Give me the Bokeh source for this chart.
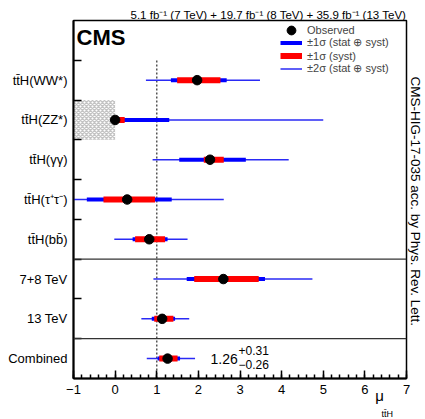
import numpy as np
from bokeh.plotting import figure
from bokeh.models import (Range1d, FixedTicker, Label, Span, Legend, LegendItem, Title,
                          LinearAxis)
from bokeh.embed import file_html
from bokeh.resources import INLINE

# ---------------- data ----------------
categories = ["tt̄H(WW*)", "tt̄H(ZZ*)", "tt̄H(γγ)", "tt̄H(τ⁺τ⁻)", "tt̄H(bb̄)",
              "7+8 TeV", "13 TeV", "Combined"]
group_sizes = [5, 2, 1]
mu_best = [1.97, 0.00, 2.28, 0.29, 0.82, 2.60, 1.13, 1.26]
tot1_lo = [1.34, 0.00, 1.54, -0.68, 0.42, 1.72, 0.88, 1.02]
tot1_hi = [2.68, 1.30, 3.14, 1.36, 1.26, 3.60, 1.44, 1.56]
syst_lo = [1.49, 0.00, 2.13, -0.28, 0.48, 1.90, 0.94, 1.06]
syst_hi = [2.53, 0.23, 2.61, 0.96, 1.20, 3.45, 1.40, 1.50]
tot2_lo = [0.74, 0.00, 0.90, -1.30, -0.02, 0.92, 0.63, 0.76]
tot2_hi = [3.48, 5.00, 4.17, 2.61, 1.74, 4.74, 1.78, 1.92]
zz_physical_bound = 0.0
sm_value = 1.0
comb_value = "1.26"
comb_up = "+0.31"
comb_dn = "−0.26"
xtick_values = [-1, 0, 1, 2, 3, 4, 5, 6, 7]
xtick_labels = ["−1", "0", "1", "2", "3", "4", "5", "6", "7"]
x_title = "μ"
x_title_sub = "tt̄H"
lumi_text = "5.1 fb⁻¹ (7 TeV) + 19.7 fb⁻¹ (8 TeV) + 35.9 fb⁻¹ (13 TeV)"
side_text = "CMS-HIG-17-035 acc. by Phys. Rev. Lett."

# ---------------- layout ----------------
FONT = "Liberation Sans"
XMIN, XMAX = -1, 7
n = len(categories)
YMIN, YMAX = 0, n + 1
W, H = 425, 419
FL, FR, FT, FB = 73, 407, 20, 378   # frame edges on the page


def SX(px):
    return px - FL


def SY(py):
    return FB - py


def XD(px):
    return XMIN + (px - FL) * (XMAX - XMIN) / (FR - FL)


rows = [n - 0.5 - i for i in range(n)]

p = figure(width=W, height=H, x_range=Range1d(XMIN, XMAX), y_range=Range1d(YMIN, YMAX),
           output_backend="svg", toolbar_location=None,
           min_border_left=FL, min_border_right=W - FR, min_border_top=FT,
           min_border_bottom=H - FB)
p.grid.visible = False
p.outline_line_color = "black"
p.outline_line_width = 1.5
p.background_fill_color = "white"
p.border_fill_color = "white"

# titles outside the frame
p.add_layout(Title(text=lumi_text, align="right", text_font=FONT, text_font_size="11.5px",
                   text_font_style="normal", text_color="black", standoff=0, offset=0), "above")
p.add_layout(Title(text=side_text, align="left", text_font=FONT, text_font_size="13.5px",
                   text_font_style="normal", text_color="black", standoff=2, offset=56), "right")

# main x axis
xa = p.xaxis[0]
xa.ticker = FixedTicker(ticks=xtick_values,
                        minor_ticks=[round(v, 1) for v in np.arange(XMIN, XMAX + 0.01, 0.2)])
xa.major_label_overrides = {v: l for v, l in zip(xtick_values, xtick_labels)}
xa.major_tick_in = 8
xa.major_tick_out = 0
xa.minor_tick_in = 4
xa.minor_tick_out = 0
xa.major_label_standoff = 6
xa.major_tick_line_color = "black"

# y axis
ya = p.yaxis[0]
ya.ticker = FixedTicker(ticks=rows, minor_ticks=list(range(1, n + 1)))
ya.major_label_overrides = {r: c for r, c in zip(rows, categories)}
ya.major_tick_line_color = None
ya.major_tick_in = 0
ya.major_tick_out = 0
ya.minor_tick_in = 8
ya.minor_tick_out = 0
ya.major_label_standoff = 6

for ax in (xa, ya):
    ax.axis_line_width = 2
    ax.axis_line_color = "black"
    ax.minor_tick_line_color = "black"
    ax.major_tick_line_width = 1.5
    ax.minor_tick_line_width = 1.5
    ax.major_label_text_font = FONT
    ax.major_label_text_font_size = "13px"
    ax.major_label_text_color = "black"

# x-axis title: mu as a label-only axis, subscript as a title below it
mu_axis = LinearAxis(ticker=FixedTicker(ticks=[XD(380)], minor_ticks=[]),
                     major_label_overrides={XD(380): x_title},
                     axis_line_color=None, major_tick_line_color=None,
                     minor_tick_line_color=None, major_tick_in=0, major_tick_out=0,
                     minor_tick_in=0, minor_tick_out=0, major_label_standoff=-10,
                     major_label_text_font=FONT, major_label_text_font_size="15px",
                     major_label_text_color="black")
p.add_layout(mu_axis, "below")
p.add_layout(Title(text=x_title_sub, align="left", vertical_align="bottom", offset=381 - FL,
                   standoff=-24, text_font=FONT, text_font_size="9px",
                   text_font_style="normal", text_color="black"), "below")

# excluded region for ZZ
zz_row = rows[1]
p.quad(left=[XMIN], right=[zz_physical_bound], bottom=[zz_row - 0.5], top=[zz_row + 0.5],
       fill_color="white", line_color=None, hatch_pattern="diagonal_cross",
       hatch_color="#c4c4c4", hatch_scale=4, hatch_weight=1.4)

# group separators
b = 0
for g in reversed(group_sizes[1:]):
    b += g
    p.add_layout(Span(location=b, dimension="width", line_color="#333333", line_width=1.2))

# SM line
p.segment(x0=[sm_value], y0=[0], x1=[sm_value], y1=[n], line_color="#555555",
          line_width=1.5, line_dash="2 2")

r2 = p.segment(x0=tot2_lo, y0=rows, x1=tot2_hi, y1=rows, line_color="#2a2af5", line_width=1.5)
r1 = p.segment(x0=tot1_lo, y0=rows, x1=tot1_hi, y1=rows, line_color="#0000ff", line_width=4)
rs = p.segment(x0=syst_lo, y0=rows, x1=syst_hi, y1=rows, line_color="#ff0000", line_width=6)
ro = p.scatter(x=mu_best, y=rows, size=9.5, color="black")

legA = Legend(items=[LegendItem(label="Observed", renderers=[ro])],
              location=(207, 337), glyph_height=22, glyph_width=22, label_height=22,
              spacing=0, padding=0, margin=0, label_standoff=5,
              border_line_color=None, background_fill_alpha=0,
              label_text_font=FONT, label_text_font_size="11px")
legB = Legend(items=[LegendItem(label="±1σ (stat ⊕ syst)", renderers=[r1]),
                     LegendItem(label="±1σ (syst)", renderers=[rs]),
                     LegendItem(label="±2σ (stat ⊕ syst)", renderers=[r2])],
              location=(207, 303), glyph_height=13, glyph_width=22, label_height=13,
              spacing=0, padding=0, margin=0, label_standoff=5,
              border_line_color=None, background_fill_alpha=0,
              label_text_font=FONT, label_text_font_size="11px")
p.add_layout(legA)
p.add_layout(legB)


def lab(txt, px, py, size, **kw):
    p.add_layout(Label(x=SX(px), y=SY(py), x_units="screen", y_units="screen", text=txt,
                       text_font=FONT, text_font_size=size, text_color="black", **kw))


lab("CMS", 76, 49, "22px", text_font_style="bold")
lab(comb_value, 210, 363, "14px")
lab(comb_up, 238, 354, "12px")
lab(comb_dn, 238, 368, "12px")

open("out.html", "w").write(file_html(p, INLINE))
